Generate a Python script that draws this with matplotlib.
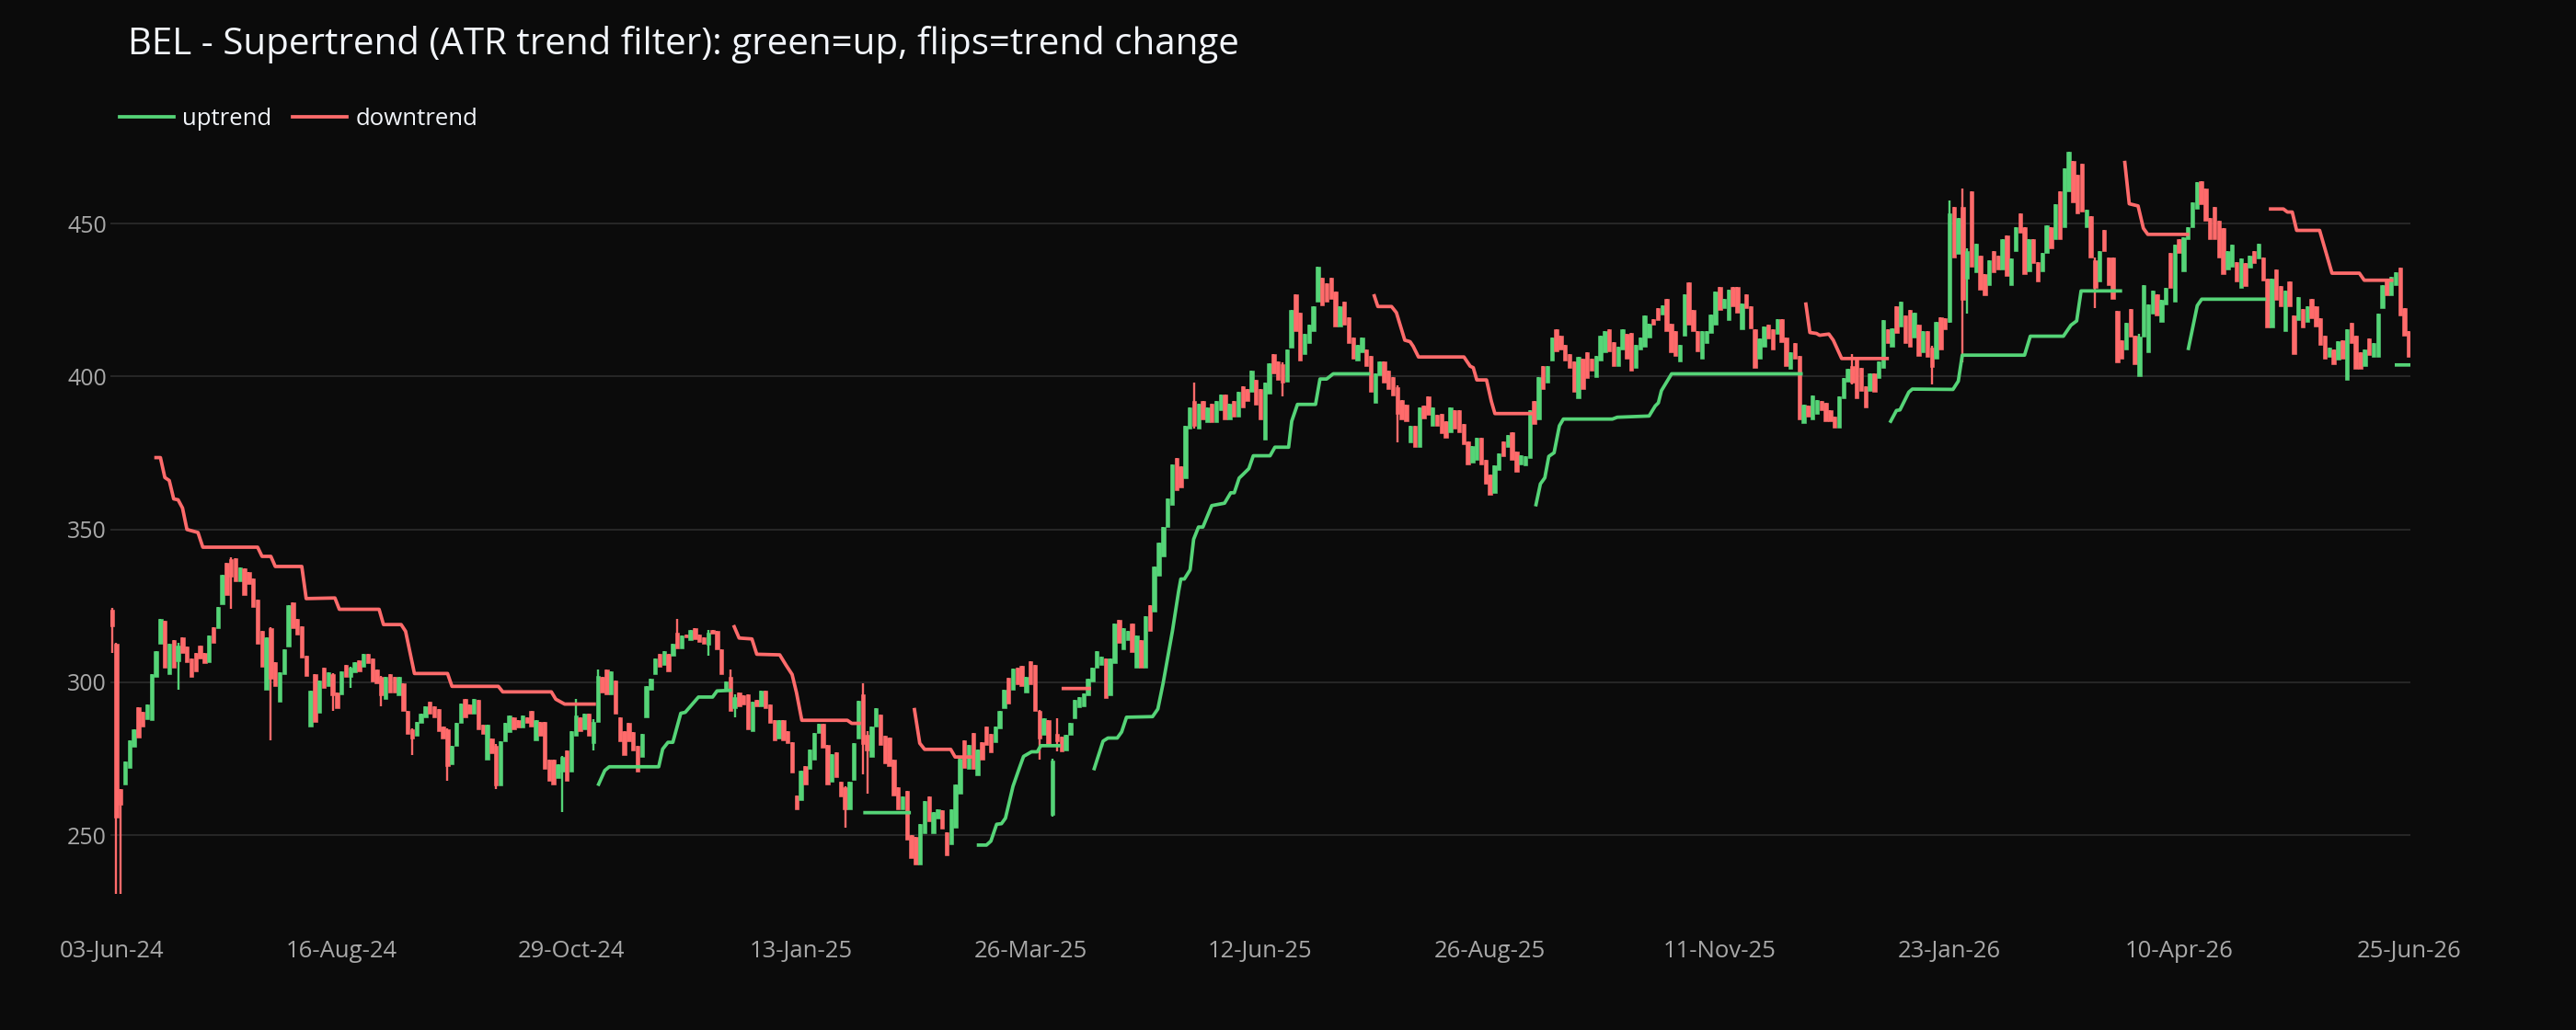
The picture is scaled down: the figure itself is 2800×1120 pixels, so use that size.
import numpy as np
import matplotlib.pyplot as plt

# --- data (daily candles, bar index 0..520) ---
tick_labels = ['03-Jun-24', '16-Aug-24', '29-Oct-24', '13-Jan-25', '26-Mar-25', '12-Jun-25',
               '26-Aug-25', '11-Nov-25', '23-Jan-26', '10-Apr-26', '25-Jun-26']
tick_step = 52

opens = [
    323.7, 312.7, 265.0, 266.7, 272.0, 279.0, 292.0, 290.5, 288.0, 287.7,
    301.7, 312.7, 320.0, 302.7, 313.7, 307.0, 314.7, 311.7, 307.7, 309.7,
    312.0, 309.7, 306.7, 318.0, 317.7, 325.7, 339.2, 340.2, 340.7, 333.0,
    337.2, 336.2, 334.0, 327.2, 316.7, 297.7, 317.7, 306.7, 293.7, 302.7,
    311.7, 326.2, 320.7, 318.2, 308.7, 285.7, 302.7, 290.2, 304.7, 298.7,
    302.7, 296.7, 296.2, 305.7, 301.7, 303.2, 307.2, 305.2, 309.2, 307.7,
    304.2, 301.7, 294.7, 302.7, 301.7, 295.7, 299.7, 290.7, 284.7, 282.7,
    286.7, 288.7, 293.7, 292.2, 291.2, 285.7, 284.7, 273.2, 279.2, 286.7,
    294.7, 292.7, 289.7, 294.2, 286.2, 274.7, 281.7, 279.2, 266.2, 280.7,
    283.7, 288.7, 287.7, 285.2, 288.7, 290.7, 281.2, 287.2, 287.2, 274.7,
    274.7, 268.7, 270.7, 277.7, 270.7, 282.7, 288.7, 284.7, 289.7, 280.2,
    287.2, 301.7, 304.2, 296.2, 300.7, 288.7, 284.2, 286.7, 283.7, 279.2,
    275.7, 288.7, 297.7, 302.7, 309.2, 305.7, 309.2, 308.7, 316.2, 311.2,
    315.7, 313.7, 317.7, 315.7, 314.7, 312.2, 317.2, 316.7, 310.7, 297.7,
    301.7, 291.7, 296.7, 295.7, 296.2, 284.2, 294.2, 292.2, 297.2, 292.7,
    287.7, 281.7, 287.6, 284.1, 280.6, 263.1, 261.6, 272.6, 271.6, 274.6,
    283.6, 286.6, 279.6, 267.6, 277.1, 267.6, 265.6, 258.6, 268.1, 281.6,
    296.0, 283.0, 275.6, 285.6, 289.6, 282.6, 282.1, 274.6, 265.6, 258.6,
    264.6, 250.1, 249.6, 240.6, 250.6, 262.6, 250.6, 255.6, 258.1, 251.1,
    247.1, 252.6, 263.6, 281.1, 271.6, 283.6, 269.6, 280.6, 285.6, 283.1,
    280.6, 285.1, 291.6, 301.6, 297.6, 304.8, 305.3, 296.8, 306.8, 305.8,
    290.8, 282.8, 287.8, 256.8, 283.3, 282.3, 277.8, 282.8, 288.3, 291.8,
    292.3, 295.8, 300.3, 304.8, 305.8, 307.8, 295.8, 306.3, 320.3, 310.8,
    313.8, 319.3, 304.8, 313.8, 304.8, 325.3, 323.3, 334.8, 341.3, 350.8,
    358.0, 373.3, 370.8, 366.8, 383.0, 392.0, 383.0, 392.0, 385.0, 391.0,
    385.0, 389.0, 394.0, 386.0, 392.0, 387.0, 396.9, 396.0, 394.9, 398.9,
    395.9, 379.4, 394.4, 407.4, 404.9, 403.9, 398.4, 409.4, 426.9, 420.9,
    407.4, 410.9, 414.9, 424.4, 432.4, 430.4, 432.4, 427.9, 416.4, 424.4,
    419.4, 412.9, 405.4, 407.9, 408.9, 406.9, 391.4, 400.4, 404.9, 401.9,
    399.9, 396.4, 392.4, 390.9, 378.4, 383.9, 376.9, 390.4, 393.4, 383.9,
    387.4, 387.9, 385.4, 381.9, 388.9, 388.9, 384.4, 378.9, 371.9, 372.9,
    379.9, 372.9, 367.9, 361.9, 369.4, 378.9, 376.9, 381.9, 375.4, 371.4,
    370.9, 373.4, 391.9, 385.9, 403.4, 397.9, 405.4, 415.4, 413.4, 410.4,
    407.4, 404.9, 392.9, 405.9, 407.9, 405.9, 399.9, 405.4, 407.9, 415.4,
    411.4, 403.4, 408.9, 413.9, 414.4, 402.9, 408.9, 409.9, 412.9, 418.9,
    422.4, 420.4, 425.4, 417.4, 414.9, 404.9, 413.4, 430.9, 421.9, 414.9,
    405.9, 411.0, 414.4, 416.9, 429.4, 422.4, 418.4, 429.4, 429.4, 415.4,
    426.9, 422.9, 415.4, 405.9, 409.9, 416.9, 415.4, 413.9, 418.7, 412.9,
    402.4, 410.9, 406.9, 384.9, 390.4, 385.9, 387.9, 391.9, 391.4, 388.9,
    386.9, 383.4, 392.9, 398.4, 403.4, 405.9, 402.9, 396.9, 395.4, 400.9,
    399.4, 402.9, 415.4, 409.9, 422.9, 416.4, 419.9, 421.9, 412.9, 416.9,
    407.9, 415.0, 409.5, 406.0, 419.5, 419.0, 418.0, 455.5, 440.0, 455.5,
    432.0, 460.5, 434.0, 439.5, 433.5, 430.0, 441.0, 439.5, 435.0, 446.0,
    430.0, 441.0, 453.5, 449.0, 434.5, 445.0, 437.5, 434.5, 440.5, 449.0,
    445.0, 460.5, 449.0, 460.5, 470.5, 466.0, 469.5, 449.0, 452.5, 438.0,
    431.0, 448.0, 439.0, 439.0, 421.5, 412.0, 409.0, 422.0, 413.5, 400.0,
    413.0, 408.0, 420.5, 427.0, 418.0, 423.5, 440.5, 424.5, 445.0, 434.5,
    445.0, 449.0, 455.0, 464.0, 461.5, 452.0, 455.5, 451.0, 448.5, 435.0,
    436.0, 437.5, 429.0, 437.0, 435.5, 441.0, 438.5, 439.0, 432.0, 416.0,
    435.0, 429.5, 415.0, 431.0, 420.0, 418.5, 422.0, 418.0, 425.5, 423.0,
    419.0, 413.5, 406.5, 409.0, 405.5, 412.0, 399.0, 417.5, 413.5, 408.0,
    403.5, 412.5, 406.5, 406.5, 422.5, 432.0, 426.5, 430.0, 435.5, 422.5,
    415.0,
]

closes = [
    318.2, 255.7, 260.0, 274.2, 281.0, 284.7, 282.0, 285.7, 292.7, 302.7,
    310.2, 320.7, 304.7, 312.7, 304.7, 312.0, 309.7, 306.7, 301.7, 303.7,
    307.7, 306.2, 315.2, 313.0, 324.7, 335.2, 328.7, 334.7, 333.2, 337.7,
    328.7, 332.2, 324.7, 312.7, 305.2, 314.7, 301.2, 298.7, 303.2, 310.7,
    325.2, 317.7, 315.7, 308.2, 302.2, 297.2, 287.2, 300.7, 298.2, 303.2,
    295.7, 291.7, 303.7, 301.7, 304.7, 306.7, 303.7, 309.2, 306.2, 300.2,
    299.7, 295.7, 301.7, 296.7, 296.7, 301.7, 290.7, 283.2, 281.7, 287.2,
    289.7, 292.2, 289.7, 288.7, 284.2, 281.7, 272.7, 279.2, 286.7, 293.2,
    288.7, 289.7, 294.7, 284.7, 283.2, 286.2, 276.7, 266.2, 280.7, 286.7,
    289.2, 284.7, 285.2, 289.2, 286.7, 285.7, 287.7, 282.7, 271.7, 267.7,
    266.7, 273.2, 275.7, 267.7, 284.2, 289.2, 284.2, 289.7, 282.7, 287.2,
    302.2, 296.7, 296.2, 303.7, 289.7, 280.7, 276.2, 280.7, 277.7, 270.7,
    283.2, 298.7, 301.2, 307.7, 305.2, 310.2, 303.7, 312.7, 311.2, 315.2,
    314.7, 317.2, 314.2, 313.2, 312.7, 316.2, 316.0, 310.7, 302.7, 300.2,
    290.7, 295.2, 292.2, 292.7, 284.7, 293.7, 292.2, 297.2, 291.7, 286.7,
    281.2, 287.7, 281.1, 280.1, 270.6, 258.6, 271.1, 266.6, 278.1, 283.6,
    286.6, 278.6, 266.6, 276.6, 269.1, 262.6, 258.6, 267.6, 280.1, 294.1,
    280.0, 277.6, 285.6, 291.6, 279.6, 273.6, 272.6, 263.1, 258.6, 262.6,
    248.6, 242.6, 240.6, 253.6, 261.1, 254.6, 257.6, 258.6, 252.1, 243.6,
    258.6, 266.6, 275.1, 272.1, 279.6, 271.6, 278.1, 274.6, 279.6, 277.1,
    285.6, 290.6, 297.6, 293.1, 304.6, 299.3, 298.8, 301.8, 299.3, 290.8,
    281.8, 288.3, 279.3, 274.3, 280.8, 277.3, 282.8, 286.8, 294.3, 295.3,
    296.3, 301.3, 304.8, 310.3, 308.3, 294.8, 307.8, 319.3, 312.8, 317.8,
    316.8, 309.8, 315.3, 304.8, 321.8, 316.8, 337.8, 345.8, 350.8, 360.0,
    371.3, 362.8, 363.8, 384.0, 390.0, 384.0, 391.0, 386.0, 390.0, 385.0,
    392.0, 394.0, 386.0, 391.0, 387.0, 395.0, 389.9, 392.0, 401.9, 390.9,
    385.9, 397.9, 404.4, 400.9, 398.9, 397.9, 408.9, 421.9, 414.9, 405.4,
    413.9, 416.9, 422.9, 435.9, 423.4, 424.4, 425.4, 416.4, 422.9, 416.9,
    410.9, 405.9, 410.4, 412.9, 403.4, 394.9, 400.9, 404.9, 397.9, 395.9,
    393.9, 387.9, 385.9, 385.4, 383.9, 376.9, 389.9, 386.4, 387.4, 389.9,
    383.9, 381.4, 379.9, 389.9, 382.9, 381.9, 377.9, 371.4, 377.4, 379.9,
    371.4, 364.9, 361.4, 370.9, 374.9, 373.9, 380.9, 372.9, 368.9, 374.4,
    373.9, 388.9, 384.4, 399.9, 395.9, 403.4, 412.9, 408.4, 408.9, 405.4,
    402.9, 394.9, 406.4, 395.9, 399.4, 401.9, 406.9, 413.4, 414.9, 408.4,
    403.4, 409.9, 415.4, 405.9, 401.9, 410.4, 412.9, 419.9, 417.4, 416.9,
    418.4, 423.4, 414.9, 407.9, 406.9, 410.4, 426.9, 416.9, 414.9, 408.4,
    414.9, 415.0, 420.4, 427.9, 421.9, 425.4, 428.4, 422.9, 420.9, 423.9,
    422.4, 415.9, 402.9, 412.4, 416.4, 412.4, 408.9, 418.9, 411.4, 403.4,
    407.9, 405.9, 385.9, 390.9, 386.9, 393.9, 392.4, 388.9, 385.4, 385.4,
    383.4, 393.4, 399.4, 402.4, 397.9, 392.9, 395.4, 389.9, 400.9, 394.9,
    404.9, 418.4, 410.9, 415.9, 414.4, 424.4, 410.9, 409.9, 420.9, 406.9,
    414.9, 406.5, 403.0, 418.0, 409.0, 415.5, 453.5, 439.0, 452.0, 425.0,
    441.0, 436.0, 443.5, 428.5, 426.5, 438.0, 434.0, 435.0, 445.0, 433.0,
    438.5, 449.0, 447.0, 433.5, 445.0, 437.0, 431.0, 440.5, 449.5, 442.0,
    456.5, 445.0, 468.0, 473.5, 457.0, 453.5, 454.0, 454.5, 439.0, 429.0,
    441.0, 441.0, 430.0, 425.5, 404.5, 406.0, 417.5, 413.0, 404.0, 413.0,
    430.0, 423.5, 428.0, 420.0, 425.0, 429.0, 429.0, 443.0, 440.5, 445.5,
    449.0, 457.0, 463.5, 456.5, 451.0, 445.0, 445.0, 439.0, 433.5, 441.0,
    443.0, 431.0, 438.5, 429.5, 439.5, 437.0, 443.5, 431.5, 416.0, 432.0,
    425.0, 423.0, 428.0, 423.0, 407.5, 426.0, 416.0, 423.0, 419.0, 416.5,
    410.5, 406.0, 409.5, 404.0, 411.5, 406.0, 415.5, 411.0, 402.5, 402.5,
    409.0, 407.0, 411.0, 420.5, 430.0, 426.5, 432.5, 434.0, 420.0, 413.5,
    406.5,
]

# candles with visible wicks beyond the body
wick_idx = [0, 1, 2, 15, 27, 36, 50, 54, 61, 68, 76, 87, 102, 105, 109, 110, 128, 135,
            140, 141, 166, 170, 171, 210, 213, 214, 245, 265, 291, 394, 412, 416, 419,
            420, 449, 459]
wick_high = [324.5, 313.0, 265.0, 313.0, 341.0, 318.0, 303.0, 305.0, 302.0, 285.0, 285.0,
             280.0, 276.0, 294.7, 288.0, 304.2, 320.7, 317.0, 304.2, 296.0, 266.0, 299.6,
             284.0, 291.0, 275.0, 288.3, 398.0, 404.5, 397.0, 407.4, 410.0, 457.5, 461.5,
             442.0, 439.0, 414.0]
wick_low = [309.7, 230.7, 230.7, 297.7, 324.2, 281.2, 290.7, 298.2, 292.2, 276.2, 267.7,
            265.2, 257.7, 282.7, 277.7, 287.2, 311.0, 308.7, 290.7, 288.7, 252.6, 270.0,
            263.6, 274.8, 256.0, 277.3, 383.0, 393.4, 378.4, 397.5, 397.5, 417.5, 404.5,
            420.5, 422.5, 400.0]

# supertrend vertices (bar position, level); nan breaks the line at a trend flip
nan = np.nan
up_x = [110.2, 111.6, 112.6, 123.8, 124.7, 125.9, 127, 128.8, 129.8, 132.8, 136, 137, 140, nan,
        170.5, 180.5, nan,
        196.2, 198, 199, 200.3, 201.4, 202.3, 204, 205.4, 206.4, 208.2, 209.5, 210.3, 214.4, nan,
        222.4, 224.4, 225.5, 227.6, 228.6, 229.7, 235.6, 236.8, 238, 240.1, 241.5, 242, 242.8,
        244.1, 244.9, 246, 247, 249, 251.9, 253.3, 254.1, 255.2, 256, 257.4, 258.4, 262.2,
        263.3, 266.4, 267.1, 268.4, 272.5, 273.5, 275, 276.5, 284.5, nan,
        322.4, 323.4, 324.4, 325.3, 326.5, 327.7, 328.6, 339.7, 340.8, 348, 349.4, 350.1, 350.8,
        353.1, 382.4, nan,
        402.7, 404, 404.8, 406.8, 407.6, 416.8, 418, 418.9, 433, 434.3, 441.8, 443.5, 444.8,
        445.8, 454.7, nan,
        470.1, 472.1, 473.1, 487.3, nan,
        517.2, 520]
up_y = [266.7, 271.2, 272.4, 272.4, 278.2, 280.4, 280.4, 289.9, 290.2, 295.2, 295.2, 297.2, 297.4, nan,
        257.4, 257.4, nan,
        246.8, 246.8, 248.1, 253.6, 253.8, 255.6, 266.0, 271.8, 275.8, 277.3, 277.3, 279.3, 279.3, nan,
        271.8, 280.8, 281.8, 281.8, 283.8, 288.6, 288.8, 291.3, 299.8, 316.8, 329.8, 333.8, 333.8,
        336.8, 346.8, 350.8, 350.8, 357.8, 358.6, 362.0, 362.0, 366.8, 367.9, 369.9, 374.1, 374.1,
        376.9, 376.9, 385.4, 390.9, 390.9, 399.2, 399.2, 400.9, 400.9, nan,
        358.1, 364.9, 366.9, 373.9, 375.1, 383.9, 386.1, 386.1, 386.7, 387.1, 390.4, 391.4, 395.4,
        400.9, 400.9, nan,
        385.4, 388.9, 389.1, 394.9, 395.9, 395.8, 398.5, 407.0, 407.0, 413.2, 413.2, 416.8, 418.2,
        428.0, 428.0, nan,
        409.2, 423.2, 425.3, 425.3, nan,
        403.8, 403.8]

dn_x = [10, 11, 12, 13, 14, 15, 16, 17, 19.5, 20.6, 33, 34, 36, 37, 43, 44, 50.5, 51.5, 60.5,
        61.5, 65.5, 66.5, 68.5, 76, 77, 87.5, 88.5, 99.5, 100.5, 102.5, 109.2, nan,
        140.9, 142, 144.9, 146, 151.2, 152.6, 154, 155, 156.2, 166.5, 167.5, 169.2, nan,
        181.7, 182.9, 184, 189.9, 190.9, 194.4, nan,
        215.4, 221.3, nan,
        285.8, 286.6, 289.7, 290.8, 292.7, 293.9, 294.6, 295.8, 306.1, 307.5, 308.2, 309,
        311.2, 312.3, 313.1, 321.3, nan,
        383.5, 384.4, 385.9, 386.6, 388.7, 389.7, 391.6, 401.9, nan,
        455.7, 456.7, 458.7, 459.9, 460.9, 469.9, nan,
        488.7, 491.6, 492.5, 493.6, 494.6, 499.8, 502.6, 508.8, 509.9, 516.1]
dn_y = [373.5, 373.5, 367.0, 366.0, 360.0, 359.7, 357.0, 350.0, 349.0, 344.2, 344.2, 341.2,
        341.2, 337.9, 337.9, 327.4, 327.6, 323.9, 323.9, 318.9, 318.9, 316.7, 302.9, 302.9,
        298.7, 298.7, 296.9, 296.9, 294.5, 292.9, 292.9, nan,
        318.2, 314.5, 314.2, 309.2, 309.0, 305.7, 302.6, 296.6, 287.6, 287.6, 286.6, 286.6, nan,
        291.1, 280.1, 278.1, 278.1, 275.6, 275.6, nan,
        298.0, 298.0, nan,
        426.4, 422.9, 422.9, 420.9, 411.9, 411.4, 409.9, 406.4, 406.4, 403.4, 402.9, 398.9,
        398.9, 391.9, 387.9, 387.9, nan,
        423.7, 414.4, 414.1, 413.5, 413.9, 411.9, 405.9, 405.9, nan,
        470.0, 456.5, 455.8, 448.5, 446.5, 446.5, nan,
        454.8, 454.8, 453.8, 453.8, 447.8, 447.8, 433.8, 433.8, 431.5, 431.5]

# --- style ---
plt.rcParams['font.family'] = ['Open Sans', 'DejaVu Sans']
BG = '#0b0b0b'
GREEN = '#55d477'
RED = '#ff6b6b'
GRID = '#2a2a2a'
TICK = '#a8a8a8'

o = np.array(opens)
c = np.array(closes)
x = np.arange(len(o))
rising = c >= o
body_lo = np.minimum(o, c)
body_h = np.maximum(np.abs(c - o), 0.8)
hi = np.maximum(o, c)
lo = np.minimum(o, c)
hi[wick_idx] = wick_high
lo[wick_idx] = wick_low
cols = np.where(rising, GREEN, RED)

fig = plt.figure(figsize=(28, 11.2), dpi=100, facecolor=BG)
ax = fig.add_axes([0.0429, 0.1071, 0.8929, 0.7589])
ax.set_facecolor(BG)

ax.vlines(x, lo, hi, colors=cols, linewidth=1.7, zorder=2)
ax.bar(x, body_h, bottom=body_lo, width=0.92, color=cols, edgecolor=cols,
       linewidth=0.4, zorder=3)

l_up, = ax.plot(up_x, up_y, color=GREEN, linewidth=2.7, zorder=4)
l_dn, = ax.plot(dn_x, dn_y, color=RED, linewidth=2.7, zorder=4)

ax.set_xlim(-0.3, 520.4)
ax.set_ylim(222.4, 478.0)
ax.set_xticks(np.arange(len(tick_labels)) * tick_step)
ax.set_xticklabels(tick_labels)
ax.set_yticks([250, 300, 350, 400, 450])
ax.tick_params(axis='x', length=0, pad=16, labelsize=18.5, colors=TICK)
ax.tick_params(axis='y', length=0, pad=3, labelsize=18, colors=TICK)
ax.yaxis.grid(True, color=GRID, linewidth=1.3)
ax.set_axisbelow(True)
for s in ax.spines.values():
    s.set_visible(False)

fig.text(0.0496, 0.957, 'BEL - Supertrend (ATR trend filter): green=up, flips=trend change',
         fontsize=29, color='#f2f5fa', ha='left', va='center')

fig.legend([l_up, l_dn], ['uptrend', 'downtrend'], loc='center left',
           bbox_to_anchor=(0.0464, 0.884), ncol=2, frameon=False, fontsize=18.5,
           labelcolor='#f2f5fa', handlelength=2.3, handletextpad=0.35,
           columnspacing=0.9, borderpad=0, borderaxespad=0)

fig.savefig('out.png', dpi=100, facecolor=BG)
